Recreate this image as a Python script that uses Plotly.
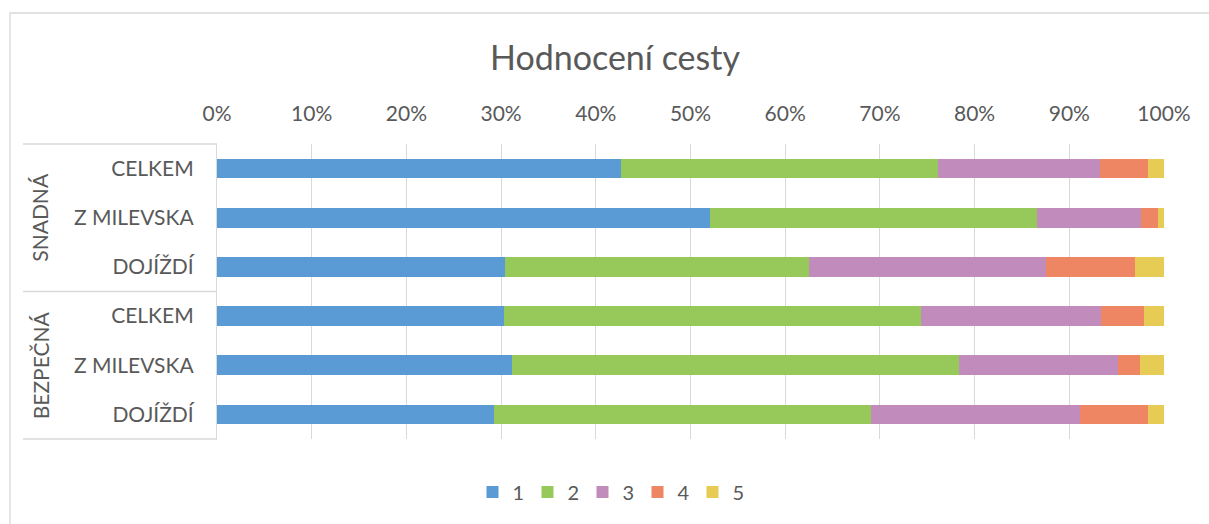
import plotly.graph_objects as go

# ---- data ----
groups = ["SNADNÁ", "SNADNÁ", "SNADNÁ", "BEZPEČNÁ", "BEZPEČNÁ", "BEZPEČNÁ"]
categories = ["CELKEM", "Z MILEVSKA", "DOJÍŽDÍ", "CELKEM", "Z MILEVSKA", "DOJÍŽDÍ"]
series_names = ["1", "2", "3", "4", "5"]
s1 = [42.7, 52.1, 30.4, 30.3, 31.1, 29.3]
s2 = [33.4, 34.5, 32.1, 44.0, 47.2, 39.8]
s3 = [17.1, 11.0, 25.0, 19.0, 16.8, 22.0]
s4 = [5.1, 1.8, 9.4, 4.6, 2.4, 7.2]
s5 = [1.7, 0.6, 3.1, 2.1, 2.5, 1.7]
series_values = [s1, s2, s3, s4, s5]
colors = ["#5B9BD5", "#97C85A", "#C18BBB", "#EE8663", "#E6CB55"]
x_ticks = [0, 10, 20, 30, 40, 50, 60, 70, 80, 90, 100]
x_tick_labels = [f"{v}%" for v in x_ticks]
group_names = ["SNADNÁ", "BEZPEČNÁ"]

keys = [f"{g}|{c}" for g, c in zip(groups, categories)]

W, H = 1209, 524
ML, MR, MT, MB = 217, 45, 144, 85
PW = W - ML - MR
PH = H - MT - MB


def px_x(px):
    return (px - ML) / PW


def px_y(py):
    return (H - MB - py) / PH


FONT = "Lato"
GRAY = "#595959"
LINE = "#D9D9D9"

fig = go.Figure()
for name, vals, col in zip(series_names, series_values, colors):
    fig.add_trace(go.Bar(
        name=name, x=vals, y=keys, orientation="h",
        marker=dict(color=col, line=dict(width=0)),
    ))

fig.update_layout(
    width=W, height=H,
    margin=dict(l=ML, r=MR, t=MT, b=MB, autoexpand=False),
    barmode="stack", bargap=0.6,
    paper_bgcolor="white", plot_bgcolor="white",
    font=dict(family=FONT, color=GRAY, size=21),
    title=dict(text="Hodnocení cesty", font=dict(family=FONT, size=34, color=GRAY),
               x=615 / W, xref="container", xanchor="center",
               y=1 - 58 / H, yref="container", yanchor="middle"),
    legend=dict(orientation="h", x=px_x(610), xanchor="center", y=px_y(492), yanchor="middle",
                font=dict(family=FONT, size=20, color=GRAY), traceorder="normal",
                entrywidth=10, entrywidthmode="pixels", itemwidth=30),
    xaxis=dict(side="top", range=[0, 100], tickvals=x_ticks, ticktext=x_tick_labels,
               showgrid=True, gridcolor=LINE, gridwidth=1.3, zeroline=False,
               showline=False, ticks="", ticklabelstandoff=18,
               tickfont=dict(family=FONT, size=21, color=GRAY), fixedrange=True),
    yaxis=dict(type="category", autorange="reversed", tickvals=keys, ticktext=categories,
               showgrid=False, showline=True, linecolor=LINE, linewidth=1.3, ticks="",
               ticklabelstandoff=18, tickfont=dict(family=FONT, size=21, color=GRAY),
               fixedrange=True),
    showlegend=True,
)

# category box lines
for yv in [1, 0.5, 0]:
    fig.add_shape(type="line", xref="paper", yref="paper", x0=px_x(23), x1=0, y0=yv, y1=yv,
                  line=dict(color=LINE, width=1.3), layer="below")

# outer chart border (top and left visible)
fig.add_shape(type="rect", xref="paper", yref="paper",
              x0=px_x(10), x1=px_x(1215), y0=px_y(13), y1=px_y(530),
              line=dict(color=LINE, width=1.3), layer="below")

# group labels
for gi, gname in enumerate(group_names):
    fig.add_annotation(text=gname, xref="paper", yref="paper", x=px_x(40),
                       y=1 - (gi + 0.5) / len(group_names), textangle=-90, showarrow=False,
                       font=dict(family=FONT, size=21, color=GRAY),
                       xanchor="center", yanchor="middle")

fig.write_html("out.html", config={"displayModeBar": False},
               post_script="document.body.style.margin='0';document.body.style.overflow='hidden';")
